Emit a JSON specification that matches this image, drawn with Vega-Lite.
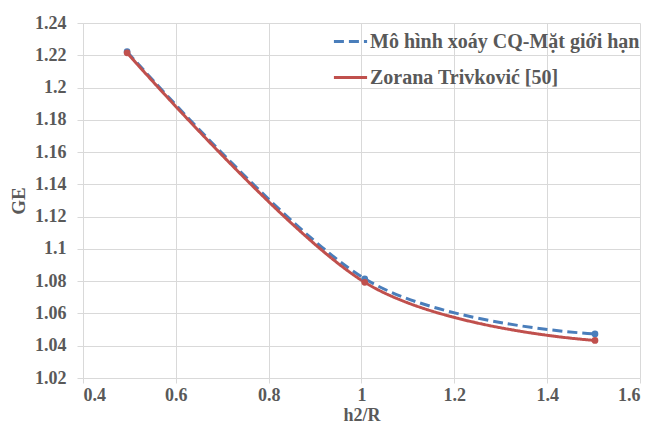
{
  "$schema": "https://vega.github.io/schema/vega-lite/v6.json",
  "width": 557,
  "height": 355,
  "autosize": "none",
  "padding": {"left": 83, "top": 23, "right": 14, "bottom": 49},
  "background": "white",
  "config": {
    "view": {"stroke": null},
    "font": "Liberation Serif",
    "axis": {
      "gridColor": "#d9d9d9",
      "gridWidth": 1,
      "domainColor": "#d9d9d9",
      "tickColor": "#d9d9d9",
      "tickSize": 6
    }
  },
  "data": {
    "values": [
      {"x": 0.495, "y": 1.2222, "series": "Mô hình xoáy CQ-Mặt giới hạn"},
      {"x": 1.007, "y": 1.0815, "series": "Mô hình xoáy CQ-Mặt giới hạn"},
      {"x": 1.503, "y": 1.0473, "series": "Mô hình xoáy CQ-Mặt giới hạn"},
      {"x": 0.495, "y": 1.2215, "series": "Zorana Trivković [50]"},
      {"x": 1.007, "y": 1.0793, "series": "Zorana Trivković [50]"},
      {"x": 1.503, "y": 1.0433, "series": "Zorana Trivković [50]"}
    ]
  },
  "encoding": {
    "x": {
      "field": "x", "type": "quantitative",
      "scale": {"domain": [0.4, 1.6], "nice": false, "zero": false},
      "axis": {
        "values": [0.4, 0.6, 0.8, 1.0, 1.2, 1.4, 1.6], "format": ".1~f", "title": "h2/R",
        "labelFont": "Liberation Serif", "labelFontWeight": "bold", "labelFontSize": 18, "labelColor": "#595959",
        "titleFont": "Liberation Serif", "titleFontWeight": "bold", "titleFontSize": 18, "titleColor": "#595959",
        "labelPadding": 3, "titlePadding": 2, "domain": false, "tickSize": 5
      }
    },
    "y": {
      "field": "y", "type": "quantitative",
      "scale": {"domain": [1.02, 1.24], "nice": false, "zero": false},
      "axis": {
        "values": [1.02, 1.04, 1.06, 1.08, 1.1, 1.12, 1.14, 1.16, 1.18, 1.2, 1.22, 1.24], "format": ".2~f", "title": "GE",
        "labelFont": "Liberation Serif", "labelFontWeight": "bold", "labelFontSize": 18, "labelColor": "#595959",
        "titleFont": "Liberation Serif", "titleFontWeight": "bold", "titleFontSize": 19, "titleColor": "#595959",
        "labelPadding": 11, "titlePadding": 6
      }
    },
    "color": {
      "field": "series", "type": "nominal",
      "scale": {"domain": ["Mô hình xoáy CQ-Mặt giới hạn", "Zorana Trivković [50]"], "range": ["#4a7ebb", "#c0504d"]},
      "legend": {
        "title": null,
        "orient": "none",
        "legendX": 249,
        "legendY": 0,
        "symbolType": "stroke",
        "symbolSize": 1100,
        "symbolStrokeWidth": 3,
        "labelFont": "Liberation Serif",
        "labelFontWeight": "bold",
        "labelFontSize": 20,
        "labelColor": "#595959",
        "labelLimit": 400,
        "rowPadding": 7,
        "labelOffset": 1
      }
    },
    "strokeDash": {
      "field": "series", "type": "nominal",
      "scale": {"domain": ["Mô hình xoáy CQ-Mặt giới hạn", "Zorana Trivković [50]"], "range": [[10, 5], [1, 0]]},
      "legend": null
    }
  },
  "layer": [
    {
      "mark": {"type": "line", "interpolate": "cardinal", "strokeWidth": 3}
    },
    {
      "mark": {"type": "point", "filled": true, "size": 45, "opacity": 1},
      "encoding": {"strokeDash": {"value": [1, 0]}}
    }
  ]
}
